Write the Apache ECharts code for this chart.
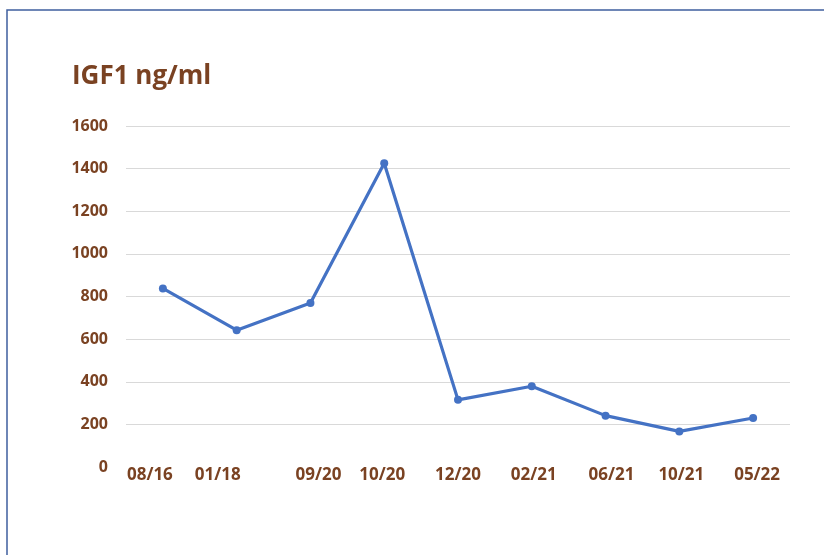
<!DOCTYPE html>
<html>
<head>
<meta charset="utf-8">
<script src="https://cdn.jsdelivr.net/npm/echarts@6/dist/echarts.min.js"></script>
<style>
html,body{margin:0;padding:0;background:#fff;}
#chart{width:824px;height:555px;}
</style>
</head>
<body>
<div id="chart"></div>
<script>
const categories = ['08/16','01/18','09/20','10/20','12/20','02/21','06/21','10/21','05/22'];
const igf1Values = [838, 642, 770, 1425, 315, 379, 241, 167, 230];
const yTicks = [0, 200, 400, 600, 800, 1000, 1200, 1400, 1600];

const brown = '#7A4222';
const labelFont = 'Open Sans';
// horizontal nudge of each x label (px) to mimic the source layout
const labelNudge = [-13, -19, 8, -2, 0, 2, 6, 2, 4];
const rich = {};
labelNudge.forEach((d, i) => {
  rich['l' + i] = {
    fontFamily: labelFont, fontWeight: 'bold', fontSize: 17, color: brown,
    padding: d < 0 ? [0, -2 * d, 0, 0] : [0, 0, 0, 2 * d]
  };
});

const chart = echarts.init(document.getElementById('chart'), null, {renderer: 'canvas'});
chart.setOption({
  backgroundColor: '#fff',
  animation: false,
  title: {
    text: 'IGF1 ng/ml',
    left: 67, top: 59,
    textStyle: {fontFamily: labelFont, fontWeight: 'bold', fontSize: 26, color: brown}
  },
  graphic: [{
    type: 'rect',
    shape: {x: 7, y: 10, width: 840, height: 580},
    style: {fill: 'none', stroke: '#3f5f9f', lineWidth: 1.5},
    silent: true
  }],
  grid: {left: 126, right: 34, top: 126, bottom: 88, containLabel: false},
  xAxis: {
    type: 'category',
    data: categories,
    boundaryGap: true,
    axisLine: {show: false},
    axisTick: {show: false},
    axisLabel: {
      margin: 0,
      interval: 0,
      formatter: (v, i) => '{l' + i + '|' + v + '}',
      rich: rich,
      fontFamily: labelFont, fontWeight: 'bold', fontSize: 17, color: brown
    }
  },
  yAxis: {
    type: 'value',
    min: yTicks[0],
    max: yTicks[yTicks.length - 1],
    interval: yTicks[1] - yTicks[0],
    axisLine: {show: false},
    axisTick: {show: false},
    axisLabel: {margin: 18, formatter: v => String(v), fontFamily: labelFont, fontWeight: 'bold', fontSize: 16, color: brown},
    splitLine: {
      lineStyle: {
        color: ['rgba(0,0,0,0)', '#d9d9d9', '#d9d9d9', '#d9d9d9', '#d9d9d9', '#d9d9d9', '#d9d9d9', '#d9d9d9', '#d9d9d9'],
        width: 1
      }
    }
  },
  series: [{
    type: 'line',
    data: igf1Values,
    symbol: 'circle',
    symbolSize: 8,
    lineStyle: {color: '#4472C4', width: 3.2},
    itemStyle: {color: '#4472C4'}
  }]
});
</script>
</body>
</html>
